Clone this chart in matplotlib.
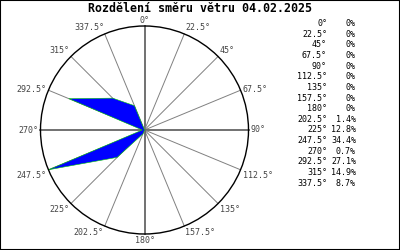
import numpy as np
import matplotlib
matplotlib.use("Agg")
from matplotlib import pyplot as plt
from matplotlib.patches import Circle, Rectangle

title = "Rozdělení směru větru 04.02.2025"
directions = [0, 22.5, 45, 67.5, 90, 112.5, 135, 157.5,
              180, 202.5, 225, 247.5, 270, 292.5, 315, 337.5]
percents = [0, 0, 0, 0, 0, 0, 0, 0,
            0, 1.4, 12.8, 34.4, 0.7, 27.1, 14.9, 8.7]

mono = "DejaVu Sans Mono"
W, H = 400, 250

fig = plt.figure(figsize=(4, 2.5), dpi=100)
fig.patches.append(Rectangle((0, 0), 1, 1, transform=fig.transFigure,
                             fill=False, ec="black", lw=1.5))

# rose axes: centre at (144.5, 130) px from top, radius 104 px
cx, cy, R = 144.5, 120, 104
ax = fig.add_axes([(cx - R) / W, (cy - R) / H, 2 * R / W, 2 * R / H])
ax.set_xlim(-1, 1)
ax.set_ylim(-1, 1)
ax.axis("off")

th = np.radians(directions)
for d, t in zip(directions, th):
    cardinal = d % 90 == 0
    ax.plot([0, np.sin(t)], [0, np.cos(t)],
            color="#666666" if cardinal else "#808080",
            lw=1.3 if cardinal else 0.7, zorder=1, clip_on=False)
    s, c = np.sin(t), np.cos(t)
    ha = "left" if s > 0.1 else ("right" if s < -0.1 else "center")
    va = "bottom" if c > 0.5 else ("top" if c < -0.2 else "center")
    pad = 1.01 if d == 0 else 1.02
    ax.text(pad * s, pad * c, f"{d:g}°", ha=ha, va=va,
            fontsize=6, family=mono, color="#444444", clip_on=False)

ax.add_patch(Circle((0, 0), 1, fill=False, ec="black", lw=1.0,
                    zorder=3, clip_on=False))

r = np.array(percents) / max(percents)
ax.fill(r * np.sin(th), r * np.cos(th), facecolor="blue",
        edgecolor="#00cc00", lw=0.4, zorder=2, clip_on=False)

fig.text(200 / W, 1 - 12.5 / H, title, ha="center", va="baseline",
         fontsize=8.4, fontweight="bold", family=mono)

for i, (d, p) in enumerate(zip(directions, percents)):
    y = 1 - (26 + 10.65 * i) / H
    fig.text(327 / W, y, f"{d:g}°", ha="right", va="baseline",
             fontsize=6, family=mono)
    fig.text(356 / W, y, f"{p:g}%", ha="right", va="baseline",
             fontsize=6, family=mono)

fig.savefig("out.png", dpi=100, facecolor="white")
